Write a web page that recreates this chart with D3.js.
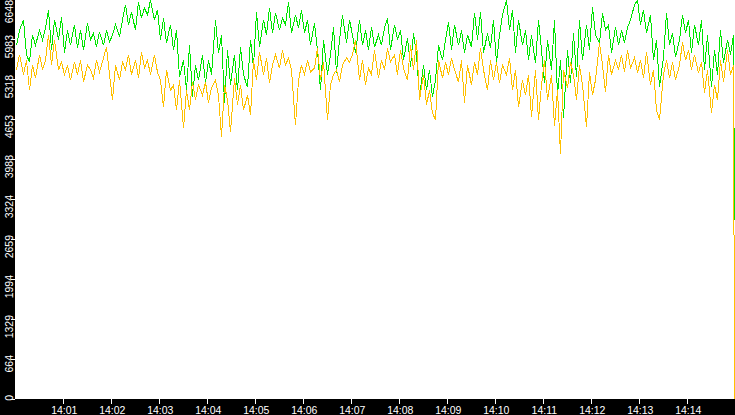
<!DOCTYPE html>
<html>
<head>
<meta charset="utf-8">
<script src="https://cdn.jsdelivr.net/npm/d3@7"></script>
<style>
  body { margin: 0; background: #000; }
  svg { display: block; }
  text { font-family: "Liberation Sans", Arial, sans-serif; font-size: 10.5px; fill: #fff; }
</style>
</head>
<body>
<div id="chart"></div>
<script>
// samples: one every 4 s starting 14:00:01, last one is the drop at the end
const startTime = new Date(2024, 0, 1, 14, 0, 0)
const sampleOffset = 1
const sampleStep = 4
const lastSampleSec = 898.6

const greenValues = [
  5880, 6130, 6300, 5720, 5600, 6050, 5880, 6130, 5970, 6170, 6470,
  5800, 6300, 5970, 6350, 5750, 6130,
  5880, 6220, 5830, 6130, 5800, 6250, 5970, 6080,
  5850, 6100, 5880, 6130, 5930, 6050,
  6220, 6020, 6300, 6550, 6220, 6430, 6130,
  6600, 6330, 6500, 6380, 6630, 6300, 6470,
  5970, 6330, 5920, 6220, 5800, 6130, 5350,
  5630, 5130, 5880, 5020, 5550, 5300,
  5720, 5250, 5630, 5390, 6300, 5750, 6050,
  4920, 5800, 5220, 5720, 5130, 5850, 5390, 5180,
  5970, 5520, 6430, 5850, 6300, 6050, 6500,
  6080, 6420, 6130, 6330, 6220, 6600, 6080, 6380, 6170,
  6470, 6080, 6300, 5880, 6250, 5800,
  5130, 5970, 5390, 5720, 6180, 5420, 5970,
  6380, 5920, 6300, 6050, 5750, 6300, 5880, 6130, 5800,
  6180, 5850, 6050, 5880, 6170, 6330, 5800, 6220, 5970,
  6130, 5630, 6000, 5520, 6080, 5720,
  5020, 5550, 5130, 5470, 5020, 5300, 5880,
  5630, 5970, 6270, 5800, 6220, 5880, 6130, 5750, 6050,
  5850, 6420, 5970, 6430, 5750, 6080, 5830,
  6300, 5580, 6050, 6380, 6630, 6130, 6470,
  5750, 6300, 5880, 6130, 5630, 6050, 5580, 6300, 5800,
  5250, 5970, 5470, 6300, 5050, 5630, 4670, 5800, 5250,
  6080, 5350, 6300, 5630, 6220, 5800, 6520, 6050, 5920,
  6420, 6130, 6220, 5750, 6180, 5880, 6130, 5920, 6170,
  6300, 6550, 6630, 6220, 6470, 6080, 6380,
  5630, 5970, 5180, 5680, 6420, 5880, 6080, 5680, 5970,
  6380, 6080, 6300, 5750, 6220, 5880, 6300, 5470, 6050,
  5180, 5800, 5390, 6130, 5580, 5970, 5720, 6050,
  2980
]

const orangeValues = [
  5470, 5720, 5390, 5630, 5130, 5550, 5330, 5720, 5470, 5630, 6050,
  5550, 5970, 5470, 5600, 5390, 5550,
  5300, 5600, 5390, 5630, 5270, 5550, 5470, 5330, 5630, 5430,
  5670, 5850, 5390, 4970, 5550, 5300, 5600,
  5470, 5720, 5390, 5630, 5330, 5770, 5500,
  5630, 5390, 5720, 5430, 5300, 4850, 5470, 5130,
  5220, 4800, 5300, 4500, 5130, 4800, 5270, 4970, 5220,
  5050, 5270, 4920, 5170, 5300, 5050, 4350, 5220, 4970,
  4440, 5330, 4890, 5220, 4800, 5050, 4720,
  5630, 5300, 5770, 5390, 5670, 5250, 5550,
  5720, 5500, 5800, 5550, 5670, 5470, 4550, 5300,
  5550, 5390, 5630, 5430, 5500, 5830, 5300, 5600,
  4640, 5220, 5390, 5470, 5270, 5550, 5670, 5600, 5720,
  5970, 5300, 5630, 5220, 5500, 5390,
  5800, 5330, 5630, 5470, 5830, 5600, 5720,
  5390, 5800, 5500, 5300, 5880, 5470, 5970, 4970, 5390,
  4890, 5130, 4750, 4640, 5630, 5330, 5600, 5390, 5670,
  5470, 5270, 5630, 4920, 5550, 5220, 5600, 5390, 5830,
  5470, 5130, 5630, 5300, 5600, 5250, 5550,
  5390, 5670, 5130, 5470, 4850, 5300,
  5050, 5390, 4690, 5470, 4640, 5220, 5630, 4970, 5390,
  4540, 5130, 4070, 5470, 5170, 5600, 5390, 4970, 5550,
  5220, 4520, 5430, 5050, 5300, 5920,
  5550, 5100, 5720, 5390, 5630, 5470,
  5720, 5430, 5800, 5500, 5670, 5420,
  5630, 5330, 5770, 5220, 5470, 4800, 4640, 5390,
  5630, 5330, 5600, 5300, 5550, 5930, 5630, 5800,
  5470, 5720, 5420, 5600, 5090, 5470, 4750, 5220, 4970,
  5630, 5270, 5800, 5390, 5550,
  0
]

const yTicks = [0, 664.8, 1329.6, 1994.4, 2659.2, 3324, 3988.8, 4653.6, 5318.4, 5983.2, 6648]
const xTickLabels = ["14:01", "14:02", "14:03", "14:04", "14:05", "14:06", "14:07",
  "14:08", "14:09", "14:10", "14:11", "14:12", "14:13", "14:14"]

let width = 735, height = 415
let plot = { left: 15, right: 735, top: 0, bottom: 399 }

let sampleTimes = greenValues.map((_, i) => {
  let sec = i < greenValues.length - 1 ? sampleOffset + i * sampleStep : lastSampleSec
  return new Date(+startTime + sec * 1000)
})

let xScale = d3.scaleTime()
  .domain([startTime, new Date(+startTime + 15 * 60 * 1000)])
  .range([15.3, 735.3])

let yScale = d3.scaleLinear()
  .domain([0, 6648])
  .range([399, -1])

let svg = d3.select("#chart").append("svg")
  .attr("width", width)
  .attr("height", height)

svg.append("rect")
  .attr("width", width).attr("height", height)
  .attr("fill", "#000")

svg.append("rect")
  .attr("x", plot.left).attr("y", plot.top)
  .attr("width", plot.right - plot.left).attr("height", plot.bottom - plot.top)
  .attr("fill", "#fff")

svg.append("clipPath").attr("id", "plotClip")
  .append("rect")
  .attr("x", plot.left).attr("y", plot.top)
  .attr("width", plot.right - plot.left).attr("height", plot.bottom - plot.top + 1)

// snap every sample to a pixel column so the aliased line stays sharp
let line = d3.line()
  .x((d, i) => Math.round(xScale(sampleTimes[i])) + 0.5)
  .y(d => yScale(d))

let lines = svg.append("g").attr("clip-path", "url(#plotClip)")

lines.append("path")
  .datum(greenValues)
  .attr("d", line)
  .attr("fill", "none")
  .attr("stroke", "#00e600")
  .attr("stroke-width", 1)
  .attr("shape-rendering", "crispEdges")

lines.append("path")
  .datum(orangeValues)
  .attr("d", line)
  .attr("fill", "none")
  .attr("stroke", "#ffc000")
  .attr("stroke-width", 1)
  .attr("shape-rendering", "crispEdges")

// y axis: short ticks and rotated labels in the black band
let gY = svg.append("g")
gY.selectAll("line")
  .data(yTicks)
  .enter()
  .append("line")
  .attr("x1", 11).attr("x2", 15)
  .attr("y1", d => Math.round(yScale(d)) + 0.5)
  .attr("y2", d => Math.round(yScale(d)) + 0.5)
  .attr("stroke", "#fff")
  .attr("shape-rendering", "crispEdges")

gY.selectAll("text")
  .data(yTicks)
  .enter()
  .append("text")
  .attr("text-anchor", "end")
  .attr("transform", d => "translate(13," + Math.max(yScale(d) - 4, 0) + ") rotate(-90)")
  .text(d => Math.floor(d))

// x axis
let parseMinute = d3.timeParse("%H:%M")
let xTicks = xTickLabels.map(s => {
  let t = parseMinute(s)
  return new Date(startTime.getFullYear(), startTime.getMonth(), startTime.getDate(), t.getHours(), t.getMinutes())
})

let gX = svg.append("g")
gX.selectAll("line")
  .data(xTicks)
  .enter()
  .append("line")
  .attr("x1", d => Math.round(xScale(d)) + 0.5)
  .attr("x2", d => Math.round(xScale(d)) + 0.5)
  .attr("y1", 399).attr("y2", 404)
  .attr("stroke", "#fff")
  .attr("shape-rendering", "crispEdges")

gX.selectAll("text")
  .data(xTicks)
  .enter()
  .append("text")
  .attr("x", d => xScale(d) + 1)
  .attr("y", 414)
  .attr("text-anchor", "middle")
  .text((d, i) => xTickLabels[i])
</script>
</body>
</html>
